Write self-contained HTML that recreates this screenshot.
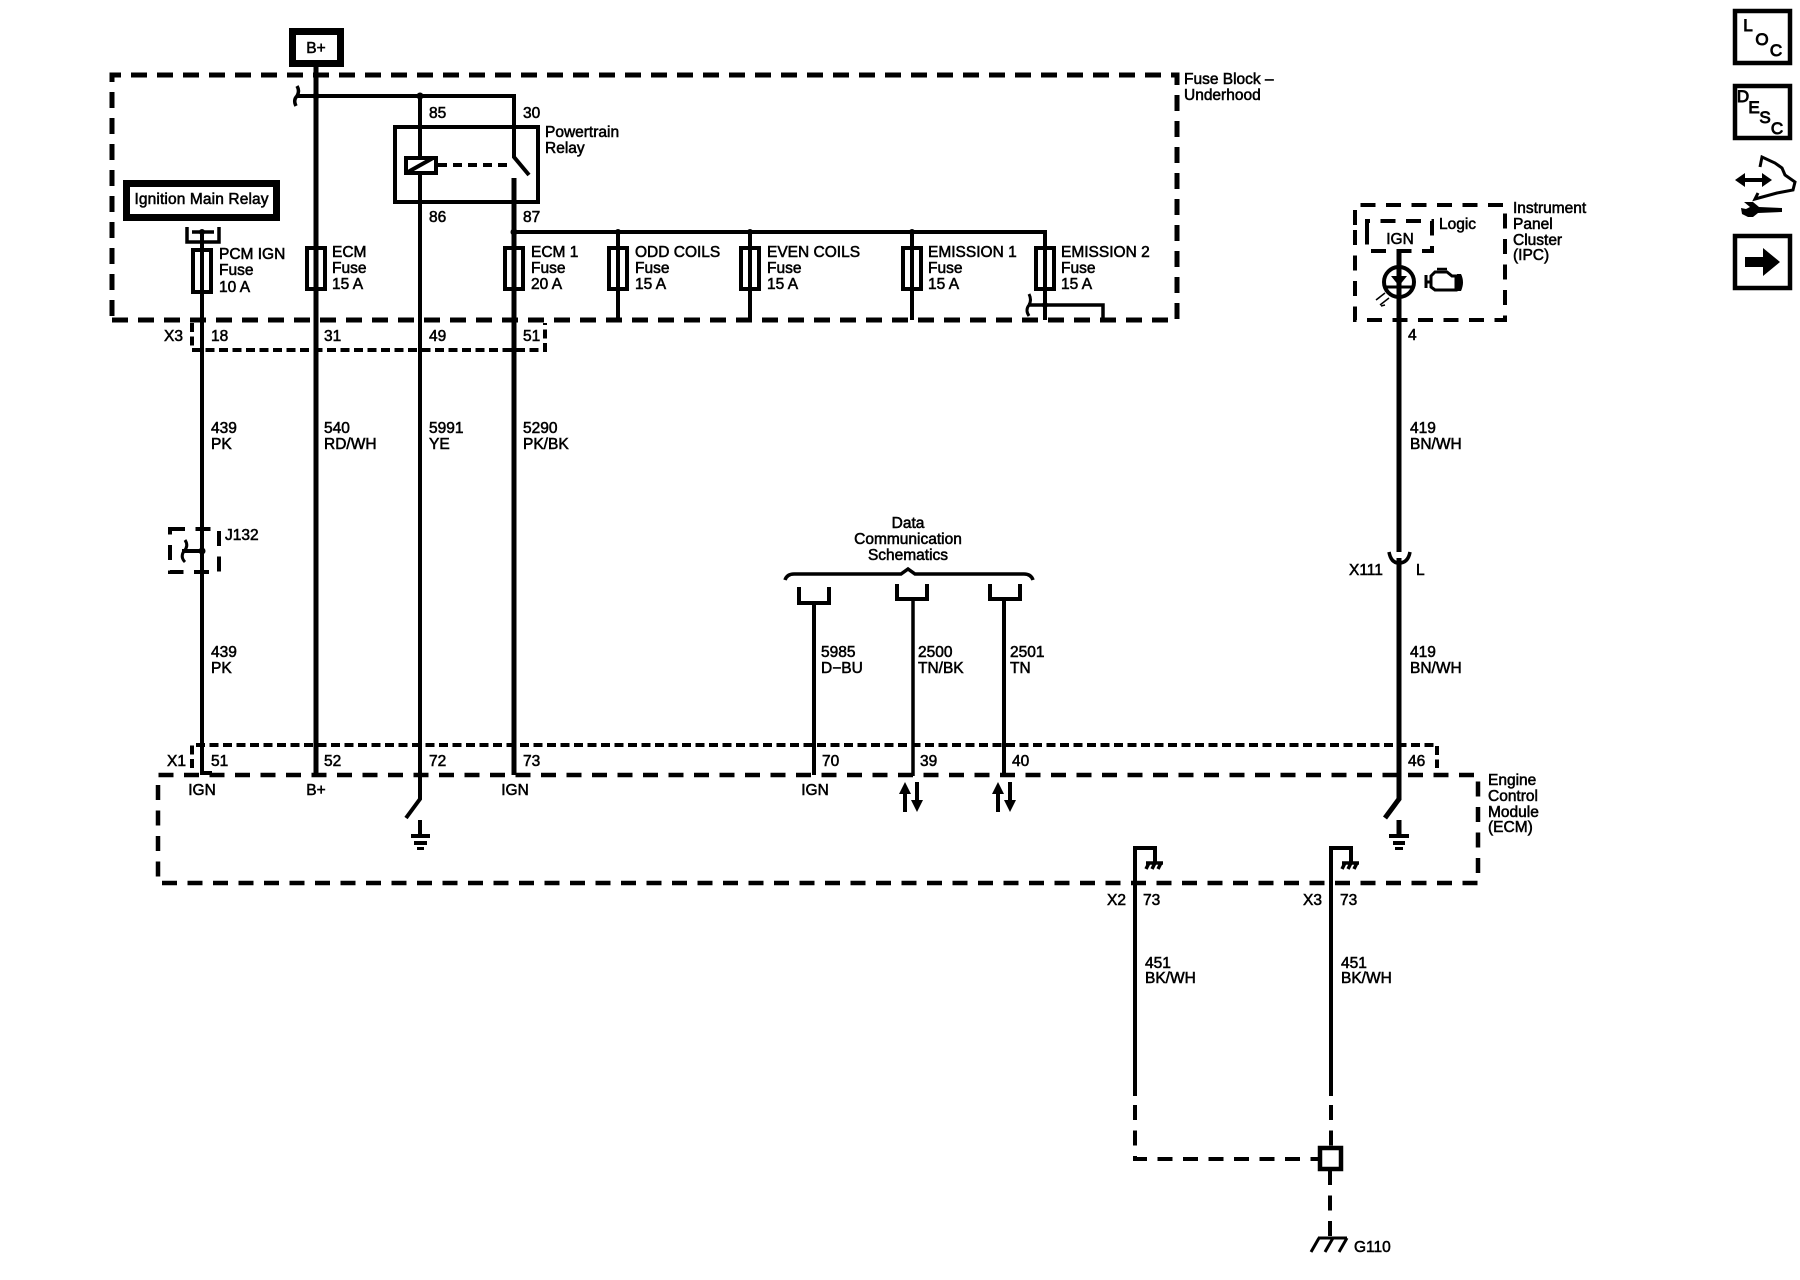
<!DOCTYPE html>
<html><head><meta charset="utf-8">
<style>
html,body{margin:0;padding:0;background:#fff;width:1800px;height:1280px;overflow:hidden}
svg{display:block}
text{font-family:"Liberation Sans",sans-serif;font-size:15.5px;fill:#000;stroke:#000;stroke-width:.55px}
.m{text-anchor:middle}
.w{fill:none;stroke:#000;stroke-width:4}
.t{fill:none;stroke:#000;stroke-width:5}
.d1{fill:none;stroke:#000;stroke-width:5;stroke-dasharray:16 10}
.d2{fill:none;stroke:#000;stroke-width:4;stroke-dasharray:9 4.5}
.d3{fill:none;stroke:#000;stroke-width:4;stroke-dasharray:15 10.5}
.k{fill:#000;stroke:none}
.ic{font-size:17px;stroke-width:.9px}
</style></head><body>
<svg width="1800" height="1280" viewBox="0 0 1800 1280" xmlns="http://www.w3.org/2000/svg">
<rect width="1800" height="1280" fill="#fff"/>

<!-- dashed enclosures -->
<path class="d1" d="M112 320V75H1177V320Z" stroke-dashoffset="-4"/>
<path class="d2" d="M192 323V350H545V323"/>
<path class="d2" d="M192 768V745H1437V768"/>
<path class="d3" style="stroke-width:4.500" d="M158 800V775H1478V883H158V800"/>
<path class="d3" d="M1355 225V205H1505V320H1355V225"/>
<path class="d3" d="M1367 233V221H1432V251H1367V233" stroke-dasharray="13 8"/>
<path class="d3" d="M170 529H219V572H170Z" stroke-dasharray="9 8"/>

<!-- B+ -->
<rect x="292.500" y="31.500" width="48" height="32" fill="#fff" stroke="#000" stroke-width="7"/>
<text class="m" x="316" y="53">B+</text>

<!-- bus and main wires -->
<path class="t" d="M316 67V775"/>
<path class="w" d="M297 96H514V157L529 175"/>
<path class="w" d="M514 178V775" style="stroke-width:5"/>
<path class="w" d="M420 96V799L406 818"/>
<path class="w" d="M202 232V773H212"/>
<path class="w" d="M297 86Q300 91 297 96Q293 100 296 106" style="stroke-width:3.500"/>
<circle class="k" cx="316" cy="96" r="3.500"/>
<circle class="k" cx="420" cy="96" r="3.500"/>

<!-- relay -->
<rect x="395" y="127" width="143" height="75" fill="none" stroke="#000" stroke-width="4"/>
<rect x="406" y="158" width="30" height="15" fill="#fff" stroke="#000" stroke-width="4"/>
<path class="w" d="M408 172L433 158"/>
<path d="M438 165H510" fill="none" stroke="#000" stroke-width="4" stroke-dasharray="9 6"/>

<!-- ignition main relay -->
<rect x="126.500" y="183.500" width="150" height="34" fill="#fff" stroke="#000" stroke-width="7"/>
<text x="134.500" y="204" textLength="134" lengthAdjust="spacing">Ignition Main Relay</text>
<path class="w" d="M187 227V242H219V227" style="stroke-width:3.500"/>
<path class="w" d="M192 232H214" style="stroke-width:3.500"/>
<circle class="k" cx="202" cy="232" r="3"/>

<!-- fuses -->
<g fill="none" stroke="#000" stroke-width="4">
<rect x="193" y="250" width="18" height="42"/>
<rect x="307" y="248" width="18" height="41"/>
<rect x="505" y="248" width="18" height="41"/>
<rect x="609" y="248" width="18" height="41"/>
<rect x="741" y="248" width="18" height="41"/>
<rect x="903" y="248" width="18" height="41"/>
<rect x="1036" y="248" width="18" height="41"/>
</g>
<path class="w" d="M514 232H1045V320M618 232V320M750 232V320M912 232V320"/>
<circle class="k" cx="514" cy="232" r="3.500"/>
<circle class="k" cx="618" cy="232" r="3"/>
<circle class="k" cx="750" cy="232" r="3"/>
<circle class="k" cx="912" cy="232" r="3"/>
<path class="w" d="M1028 305H1103V320" style="stroke-width:3.500"/>
<path class="w" d="M1029 294Q1032 300 1029 305Q1025 310 1029 316" style="stroke-width:3"/>
<circle class="k" cx="1045" cy="305" r="3"/>

<!-- top text -->
<text x="429" y="118">85</text><text x="523" y="118">30</text>
<text x="429" y="222">86</text><text x="523" y="222">87</text>
<text x="545" y="137">Powertrain</text><text x="545" y="153">Relay</text>
<text x="1184" y="84">Fuse Block –</text><text x="1184" y="100">Underhood</text>
<text x="219" y="259">PCM IGN</text><text x="219" y="275">Fuse</text><text x="219" y="292">10 A</text>
<text x="332" y="257">ECM</text><text x="332" y="273">Fuse</text><text x="332" y="289">15 A</text>
<text x="531" y="257">ECM 1</text><text x="531" y="273">Fuse</text><text x="531" y="289">20 A</text>
<text x="635" y="257">ODD COILS</text><text x="635" y="273">Fuse</text><text x="635" y="289">15 A</text>
<text x="767" y="257">EVEN COILS</text><text x="767" y="273">Fuse</text><text x="767" y="289">15 A</text>
<text x="928" y="257">EMISSION 1</text><text x="928" y="273">Fuse</text><text x="928" y="289">15 A</text>
<text x="1061" y="257">EMISSION 2</text><text x="1061" y="273">Fuse</text><text x="1061" y="289">15 A</text>

<text x="164" y="341">X3</text><text x="211" y="341">18</text><text x="324" y="341">31</text><text x="429" y="341">49</text><text x="523" y="341">51</text>

<text x="211" y="433">439</text><text x="211" y="449">PK</text>
<text x="324" y="433">540</text><text x="324" y="449">RD/WH</text>
<text x="429" y="433">5991</text><text x="429" y="449">YE</text>
<text x="523" y="433">5290</text><text x="523" y="449">PK/BK</text>
<text x="211" y="657">439</text><text x="211" y="673">PK</text>

<!-- J132 -->
<text x="225" y="540">J132</text>
<path class="w" d="M182 551H202"/>
<path class="w" d="M185 540Q189 546 184 551Q180 557 185 562" style="stroke-width:3"/>
<circle class="k" cx="202" cy="551" r="3.500"/>

<!-- data communication -->
<text class="m" x="908" y="528">Data</text>
<text class="m" x="908" y="544">Communication</text>
<text class="m" x="908" y="560">Schematics</text>
<path class="w" d="M785 580Q787 574 794 574H901L908 569L915 574H1024Q1031 574 1033 580" style="stroke-width:3.500"/>
<path class="w" d="M799 587V603H829V587"/>
<path class="w" d="M897 584V599H927V584"/>
<path class="w" d="M990 584V599H1020V584"/>
<path class="w" d="M814 603V775"/>
<path class="w" d="M913 599V776" style="stroke-width:3.500"/>
<path class="w" d="M1004 599V775"/>
<text x="821" y="657">5985</text><text x="821" y="673">D−BU</text>
<text x="918" y="657">2500</text><text x="918" y="673">TN/BK</text>
<text x="1010" y="657">2501</text><text x="1010" y="673">TN</text>

<!-- X1 row -->
<text x="167" y="766">X1</text><text x="211" y="766">51</text><text x="324" y="766">52</text><text x="429" y="766">72</text><text x="523" y="766">73</text><text x="822" y="766">70</text><text x="920" y="766">39</text><text x="1012" y="766">40</text><text x="1408" y="766">46</text>
<text class="m" x="202" y="795">IGN</text><text class="m" x="316" y="795">B+</text><text class="m" x="515" y="795">IGN</text><text class="m" x="815" y="795">IGN</text>

<!-- bidirectional arrows -->
<path class="k" d="M903 812V794H899L905 782L911 794H907V812ZM915 782H919V800H923L917 812L911 800H915Z"/>
<path class="k" d="M996 812V794H992L998 782L1004 794H1000V812ZM1008 782H1012V800H1016L1010 812L1004 800H1008Z"/>

<!-- grounds -->
<path class="w" d="M420 820V836"/><path class="k" d="M411 834H430V838H411ZM414 841H427V845H414ZM417 847H424V850H417Z"/>
<path class="t" d="M1399 820V836"/><path class="k" d="M1389 834H1409V838H1389ZM1393 841H1405V845H1393ZM1395 847H1403V850H1395Z"/>

<!-- ECM labels -->
<text x="1488" y="785">Engine</text><text x="1488" y="801">Control</text><text x="1488" y="817">Module</text><text x="1488" y="832">(ECM)</text>

<!-- chassis ground stubs -->
<path class="w" d="M1135 1096V848H1155V862"/>
<path class="w" d="M1331 1096V848H1351V862"/>
<path class="w" d="M1146 863H1163M1149 863L1146 869M1155 863L1152 869M1161 863L1158 869" style="stroke-width:3.500"/>
<path class="w" d="M1342 863H1359M1345 863L1342 869M1351 863L1348 869M1357 863L1354 869" style="stroke-width:3.500"/>
<text x="1107" y="905">X2</text><text x="1143" y="905">73</text><text x="1303" y="905">X3</text><text x="1340" y="905">73</text>
<text x="1145" y="968">451</text><text x="1145" y="983">BK/WH</text>
<text x="1341" y="968">451</text><text x="1341" y="983">BK/WH</text>
<path class="d3" d="M1135 1105V1159H1318" stroke-dasharray="15 11"/>
<path class="d3" d="M1331 1105V1147" stroke-dasharray="15 11"/>
<rect x="1320" y="1148" width="21" height="21" fill="#fff" stroke="#000" stroke-width="4.500"/>
<path class="d3" d="M1330 1170V1237" stroke-dasharray="15 10"/>
<path class="w" d="M1318 1238H1347M1319 1238L1311 1252M1333 1238L1325 1252M1347 1238L1339 1252" style="stroke-width:3"/>
<text x="1354" y="1252">G110</text>

<!-- IPC -->
<text class="m" x="1400" y="244">IGN</text>
<text x="1439" y="229">Logic</text>
<text x="1513" y="213">Instrument</text><text x="1513" y="229">Panel</text><text x="1513" y="245">Cluster</text><text x="1513" y="260">(IPC)</text>
<path class="t" d="M1399 251V552M1399 558V799L1385 818"/>
<circle cx="1399" cy="282" r="15" fill="none" stroke="#000" stroke-width="4"/>
<path class="k" d="M1391 276H1407L1399 286Z"/>
<path class="w" d="M1386 287H1412" style="stroke-width:3"/>
<path fill="none" stroke="#000" stroke-width="1.500" d="M1376 300L1385 293M1380 305L1389 298M1376 300L1380 297M1385 305L1381 306"/>
<path fill="none" stroke="#000" stroke-width="3" d="M1426 275V288M1426 282H1431M1431 276L1435 272H1447L1452 276H1456V290H1435L1431 287Z"/>
<path class="k" d="M1457 274H1461Q1465 282 1461 291H1457Z"/>
<path fill="none" stroke="#000" stroke-width="2.500" d="M1437 269H1447"/>
<text x="1408" y="340">4</text>
<path class="w" d="M1389 552Q1391 563 1399 563Q1408 563 1410 552" style="stroke-width:3.500"/>
<text x="1349" y="575">X111</text><text x="1416" y="575">L</text>
<text x="1410" y="433">419</text><text x="1410" y="449">BN/WH</text>
<text x="1410" y="657">419</text><text x="1410" y="673">BN/WH</text>

<!-- right side icons -->
<rect x="1735" y="11" width="55" height="52" fill="none" stroke="#000" stroke-width="4.500"/>
<text class="m ic" x="1748" y="31">L</text><text class="m ic" x="1762" y="45">O</text><text class="m ic" x="1776" y="56">C</text>
<rect x="1735" y="86" width="55" height="52" fill="none" stroke="#000" stroke-width="4.500"/>
<text class="m ic" x="1743" y="102">D</text><text class="m ic" x="1754" y="113">E</text><text class="m ic" x="1765" y="123">S</text><text class="m ic" x="1777" y="134">C</text>
<path class="k" d="M1735 180L1745 173V178H1762V173L1772 180L1762 187V182H1745V187Z"/>
<path fill="none" stroke="#000" stroke-width="3" d="M1760 167L1762 157L1775 163L1782 168L1785 175L1795 182L1793 190L1777 193L1755 199L1758 193"/>
<path class="k" d="M1782 208V212L1758 213L1753 217L1748 217L1742 214L1741 208L1746 209L1750 207L1744 202L1753 202L1759 207Z"/>
<rect x="1735" y="236" width="55" height="52" fill="none" stroke="#000" stroke-width="4.500"/>
<path class="k" d="M1745 257H1763V248L1780 262L1763 276V267H1745Z"/>
</svg>
</body></html>
